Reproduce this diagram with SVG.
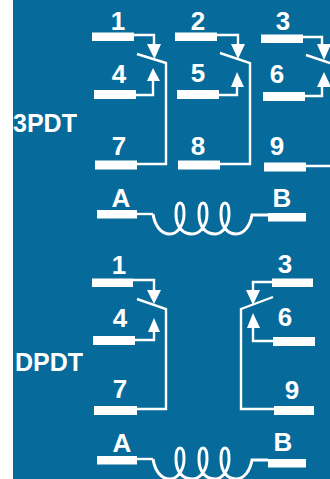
<svg xmlns="http://www.w3.org/2000/svg" width="330" height="479" viewBox="0 0 330 479">
<style>
.t{font-family:"Liberation Sans",Arial,sans-serif;font-weight:700;fill:#fff;font-size:26px;text-anchor:middle}
.l{font-family:"Liberation Sans",Arial,sans-serif;font-weight:700;fill:#fff;font-size:25px}
.b{fill:#fff}
.w{fill:none;stroke:#fff;stroke-width:2.400}
.c{fill:none;stroke:#fff;stroke-width:3}
</style>
<defs>
<path id="coil" d="M153 214C155 226 161 234 170 234C178 234 184 224 184 214C184 207 183 203 180 203C177 203 176 207 176 214C176 226 182 234 192 234C201 234 207 224 207 214C207 207 206 203 203 203C200 203 199 207 199 214C199 226 205 234 215 234C223 234 229 224 229 214C229 207 228 203 225 203C222 203 221 207 221 214C221 226 227 234 236 234C244 234 250 226 252 215L268 215"/>
</defs>
<rect width="330" height="479" fill="#fff"/>
<rect x="13" width="317" height="479" fill="#066a9b"/>
<g id="connectors">
<path class="w" d="M134 35H154V46M136 95H153V80M137 54L166 63V164H137"/>
<path class="w" d="M217 35H238V46M219 95H237V84M220 53L250 63V164H220"/>
<path class="w" d="M303 37H322V48M305 96H322V84M306 55L330 63M306 166H330"/>
<path class="w" d="M137 214H153"/>
<use href="#coil" class="c"/>
<path class="w" d="M133 280H154V292M135 340H154V328M137 299L166 309V409H137"/>
<path class="w" d="M272 282H253V292M273 341H253V326M273 297L241 309V409H274"/>
<path class="w" d="M137 459H153"/>
<use href="#coil" class="c" y="245"/>
</g>
<g id="arrowheads" fill="#fff">
<path d="M147 44H161L154.500 59Z"/><path d="M147 81H160L153 68Z"/>
<path d="M231 44H245L238 59Z"/><path d="M231 87H244L237 72Z"/>
<path d="M317 44H331L324 60Z"/><path d="M317 87H331L324 72Z"/>
<path d="M147 290H161L154 304Z"/><path d="M148 332H160L154 318Z"/>
<path d="M246 290H260L253 305Z"/><path d="M247 328H260L253 313Z"/>
</g>
<g id="n3pdt"><text class="l" x="13" y="132">3PDT</text></g>
<g id="n1"><rect class="b" x="92" y="32.500" width="42" height="8.500"/><text class="t" x="118" y="30">1</text></g>
<g id="n4"><rect class="b" x="94" y="90" width="42" height="9"/><text class="t" x="119" y="83">4</text></g>
<g id="n7"><rect class="b" x="95" y="160.500" width="42" height="9"/><text class="t" x="119" y="155">7</text></g>
<g id="n2"><rect class="b" x="175" y="32.500" width="42" height="8.500"/><text class="t" x="198" y="30">2</text></g>
<g id="n5"><rect class="b" x="177" y="90" width="42" height="9"/><text class="t" x="198" y="82">5</text></g>
<g id="n8"><rect class="b" x="178" y="160.500" width="42" height="9"/><text class="t" x="198" y="155">8</text></g>
<g id="n3"><rect class="b" x="261" y="34.500" width="42" height="8.500"/><text class="t" x="283" y="30">3</text></g>
<g id="n6"><rect class="b" x="263" y="92" width="42" height="9"/><text class="t" x="277" y="83">6</text></g>
<g id="n9"><rect class="b" x="264" y="162.500" width="42" height="9"/><text class="t" x="277" y="155">9</text></g>
<g id="nA"><rect class="b" x="97" y="210" width="40" height="8.500"/><text class="t" x="121" y="207">A</text></g>
<g id="nB"><rect class="b" x="268" y="213" width="38" height="8.500"/><text class="t" x="282" y="207">B</text></g>
<g id="ndpdt"><text class="l" x="15" y="371">DPDT</text></g>
<g id="d1"><rect class="b" x="92" y="278.500" width="41" height="8.500"/><text class="t" x="119" y="274">1</text></g>
<g id="d4"><rect class="b" x="93" y="336" width="42" height="9"/><text class="t" x="120" y="327">4</text></g>
<g id="d7"><rect class="b" x="94" y="406" width="43" height="9"/><text class="t" x="120" y="398">7</text></g>
<g id="d3"><rect class="b" x="272" y="278.500" width="41" height="8.500"/><text class="t" x="285" y="273">3</text></g>
<g id="d6"><rect class="b" x="273" y="337" width="42" height="9"/><text class="t" x="285" y="326">6</text></g>
<g id="d9"><rect class="b" x="274" y="406" width="40" height="9"/><text class="t" x="292" y="399">9</text></g>
<g id="dA"><rect class="b" x="97" y="456" width="40" height="8.500"/><text class="t" x="122" y="452">A</text></g>
<g id="dB"><rect class="b" x="268" y="459" width="38" height="8.500"/><text class="t" x="283" y="451">B</text></g>
</svg>
